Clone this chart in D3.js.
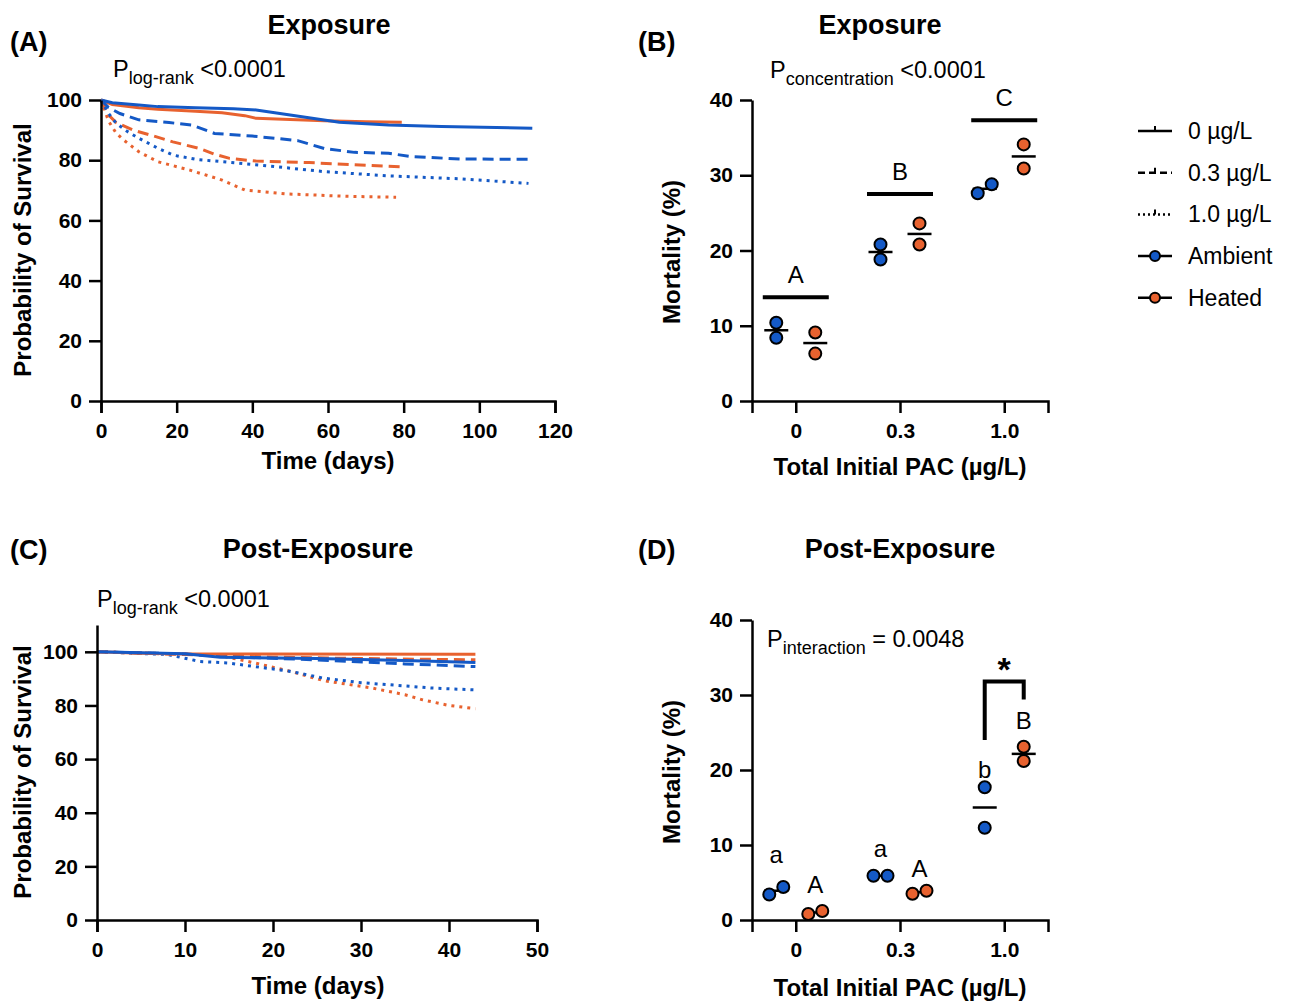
<!DOCTYPE html>
<html>
<head>
<meta charset="utf-8">
<script src="https://cdn.jsdelivr.net/npm/d3@7"></script>
<style>
  body { margin: 0; background: #fff; }
  svg { font-family: "Liberation Sans", Arial, sans-serif; }
  .axis path, .axis line { stroke: #000; stroke-width: 2.5; }
  .axis text { font-size: 21px; font-weight: bold; fill: #000; }
  .panel-label { font-size: 27px; font-weight: bold; }
  .title { font-size: 27px; font-weight: bold; text-anchor: middle; }
  .axis-title { font-size: 24px; font-weight: bold; text-anchor: middle; }
  .ptext { font-size: 23.5px; }
  .legend text { font-size: 23px; }
  .letter { font-size: 24px; text-anchor: middle; }
</style>
</head>
<body>
<svg id="chart" width="1289" height="1001"></svg>
<script>
// ---- Survival curves (day, % surviving) ----
const exposureAmbient0 = [[0,100],[3,99.1],[10,98.3],[15,97.8],[25,97.4],[35,97.1],[41,96.7],[50,95],[63,92.6],[76,91.7],[90,91.2],[114,90.6]];
const exposureHeated0 = [[0,100],[3,98.5],[10,97.4],[15,96.9],[25,96.3],[32,95.8],[38,94.8],[41,93.9],[50,93.5],[59,93.1],[70,92.8],[79.5,92.6]];
const exposureAmbient03 = [[0,100],[2,97.5],[5,95.5],[10,93.4],[18,92.5],[24,91.7],[30,88.9],[40,88],[46,87.3],[52,86.5],[59,83.9],[67,82.6],[76,82.3],[82,81.2],[95,80.4],[114,80.3]];
const exposureHeated03 = [[0,100],[2,95],[4,92.5],[8.5,90],[14,88],[19,86.1],[26,83.9],[30,82],[34,80.6],[41,79.7],[55,79.2],[79.5,77.8]];
const exposureAmbient10 = [[0,100],[2,95.5],[4,92.3],[7,89.5],[10,87.3],[15,84],[19,81.7],[25,80.3],[32,79.5],[45,78],[59,76.2],[76,74.8],[95,73.8],[113,72.3]];
const exposureHeated10 = [[0,100],[2,93],[4,89],[6,86.7],[10,82.8],[15,79.5],[23.5,76.7],[32,73.4],[38,70.1],[49,68.8],[65,68],[78,67.7]];

const postAmbient0 = [[0,100],[10,99.3],[14,98],[25,97.5],[35,96.8],[43,96]];
const postHeated0 = [[0,100],[5,99.5],[10,99.2],[43,99.1]];
const postAmbient03 = [[0,100],[10,99.2],[15,98.2],[25,97],[35,95.5],[43,94.5]];
const postHeated03 = [[0,100],[10,99],[20,98],[30,97.5],[43,97]];
const postAmbient10 = [[0,100],[8,99],[11.7,96.4],[15,95.8],[22,92.7],[25.7,90.2],[30,88.5],[33.3,87.7],[38,86.5],[43,85.8]];
const postHeated10 = [[0,100],[10,99.2],[14.3,98.4],[18,95.8],[22,92.7],[25.7,89.3],[31.4,86.4],[35,84],[37,82.1],[40,80],[43,78.8]];

// ---- Mortality (%) per tank, two replicates per group ----
const concentrations = ["0", "0.3", "1.0"];
const exposureMortAmbient = [[10.4, 8.4], [20.8, 18.8], [27.6, 28.8]];
const exposureMortHeated = [[9.1, 6.3], [23.6, 20.8], [34.1, 30.9]];
const exposureLetters = ["A", "B", "C"];
const exposureLetterBars = [13.8, 27.5, 37.3];

const postMortAmbient = [[3.4, 4.4], [5.9, 5.9], [17.7, 12.3]];
const postMortHeated = [[0.8, 1.2], [3.5, 3.9], [23.1, 21.2]];
const postLettersAmbient = ["a", "a", "b"];
const postLettersHeated = ["A", "A", "B"];
const postLetterLevelsAmbient = [7.6, 8.4, 19];
const postLetterLevelsHeated = [3.6, 5.8, 25.5];
const postBracket = [24.0, 31.8, 29.4];

const legendLabels = ["0 µg/L", "0.3 µg/L", "1.0 µg/L", "Ambient", "Heated"];

// Colours and dash styles
const blue = "#1459c6";
const orange = "#e8622f";
const dashes = { "0": null, "0.3": "11,6", "1.0": "3,5" };

const svg = d3.select("#chart");

/* Draw a pair of axes with Prism-like style */
function drawAxes(x, y, xTicks, yTicks) {
  const xa = d3.axisBottom(x).tickSizeOuter(0).tickSize(12).tickPadding(10);
  if (xTicks) xa.tickValues(xTicks);
  svg.append("g").attr("class", "axis")
    .attr("transform", `translate(0,${y.range()[0]})`)
    .call(xa);
  svg.append("g").attr("class", "axis")
    .attr("transform", `translate(${x.range()[0]},0)`)
    .call(d3.axisLeft(y).tickValues(yTicks).tickSize(12).tickSizeOuter(0).tickPadding(7));
}

/* Kaplan-Meier panel */
function survivalPanel(x, y, curves) {
  const line = d3.line().x(d => x(d[0])).y(d => y(d[1]));
  curves.forEach(c => {
    svg.append("path")
      .attr("d", line(c.data))
      .attr("fill", "none")
      .attr("stroke", c.color)
      .attr("stroke-width", 3)
      .attr("stroke-dasharray", dashes[c.conc]);
  });
}

/* Mortality scatter panel */
function mortalityPanel(x, y, ambient, heated) {
  const off = 19.5;
  const groups = [];
  concentrations.forEach((c, i) => {
    groups.push({ cx: x(c) - off, vals: ambient[i], color: blue });
    groups.push({ cx: x(c) + off, vals: heated[i], color: orange });
  });
  groups.forEach(g => {
    const m = d3.mean(g.vals);
    svg.append("line")
      .attr("x1", g.cx - 12).attr("x2", g.cx + 12)
      .attr("y1", y(m)).attr("y2", y(m))
      .attr("stroke", "#000").attr("stroke-width", 2.5);
    // spread overlapping points sideways
    const close = Math.abs(y(g.vals[0]) - y(g.vals[1])) < 12;
    g.vals.forEach((v, k) => {
      svg.append("circle")
        .attr("cx", close ? g.cx + (k === 0 ? -7 : 7) : g.cx)
        .attr("cy", y(v))
        .attr("r", 6)
        .attr("fill", g.color)
        .attr("stroke", "#000")
        .attr("stroke-width", 2);
    });
  });
}

/* P value with subscript */
function pText(px, py, sub, rest) {
  const t = svg.append("text").attr("class", "ptext").attr("x", px).attr("y", py);
  t.append("tspan").text("P");
  t.append("tspan").attr("dy", 7).attr("font-size", 18).text(sub);
  t.append("tspan").attr("dy", -7).text(rest);
}

function panelTitle(px, py, label, tx, ty, title) {
  svg.append("text").attr("class", "panel-label").attr("x", px).attr("y", py).text(label);
  svg.append("text").attr("class", "title").attr("x", tx).attr("y", ty).text(title);
}

// ---------- Panel A ----------
const xA = d3.scaleLinear().domain([0, 120]).range([101, 555]);
const yA = d3.scaleLinear().domain([0, 100]).range([401, 100]);
panelTitle(10, 51, "(A)", 329, 34, "Exposure");
pText(113, 77, "log-rank", " <0.0001");
survivalPanel(xA, yA, [
  { data: exposureHeated0, color: orange, conc: "0" },
  { data: exposureAmbient0, color: blue, conc: "0" },
  { data: exposureHeated03, color: orange, conc: "0.3" },
  { data: exposureAmbient03, color: blue, conc: "0.3" },
  { data: exposureHeated10, color: orange, conc: "1.0" },
  { data: exposureAmbient10, color: blue, conc: "1.0" }
]);
drawAxes(xA, yA, d3.range(0, 121, 20), d3.range(0, 101, 20));
svg.append("text").attr("class", "axis-title").attr("x", 328).attr("y", 469).text("Time (days)");
svg.append("text").attr("class", "axis-title")
  .attr("transform", "translate(31,250) rotate(-90)").text("Probability of Survival");

// ---------- Panel B ----------
const xB = d3.scalePoint().domain(concentrations).range([752, 1048]).padding(0.42);
const yB = d3.scaleLinear().domain([0, 40]).range([401, 100]);
panelTitle(638, 51, "(B)", 880, 34, "Exposure");
pText(770, 78, "concentration", " <0.0001");
concentrations.forEach((c, i) => {
  const yy = yB(exposureLetterBars[i]);
  svg.append("line")
    .attr("x1", xB(c) - 33).attr("x2", xB(c) + 33)
    .attr("y1", yy).attr("y2", yy)
    .attr("stroke", "#000").attr("stroke-width", 4);
  svg.append("text").attr("class", "letter").attr("x", xB(c)).attr("y", yy - 14)
    .text(exposureLetters[i]);
});
mortalityPanel(xB, yB, exposureMortAmbient, exposureMortHeated);
drawAxes(xB, yB, null, d3.range(0, 41, 10));
svg.append("text").attr("class", "axis-title").attr("x", 900).attr("y", 475).text("Total Initial PAC (µg/L)");
svg.append("text").attr("class", "axis-title")
  .attr("transform", "translate(680,252) rotate(-90)").text("Mortality (%)");

// ---------- Legend ----------
const legend = svg.append("g").attr("class", "legend");
legendLabels.forEach((lab, i) => {
  const ly = 131 + i * 41.7;
  const g = legend.append("g").attr("transform", `translate(1138,${ly})`);
  if (i < 3) {
    g.append("line").attr("x1", 0).attr("x2", 34).attr("y1", 0).attr("y2", 0)
      .attr("stroke", "#000").attr("stroke-width", 2.5)
      .attr("stroke-dasharray", i === 0 ? null : (i === 1 ? "7,4" : "2,3"));
    g.append("line").attr("x1", 17).attr("x2", 17).attr("y1", 0).attr("y2", -5)
      .attr("stroke", "#000").attr("stroke-width", 2);
  } else {
    g.append("line").attr("x1", 0).attr("x2", 34).attr("y1", 0).attr("y2", 0)
      .attr("stroke", "#000").attr("stroke-width", 2.5);
    g.append("circle").attr("cx", 17).attr("cy", 0).attr("r", 5)
      .attr("fill", i === 3 ? blue : orange).attr("stroke", "#000").attr("stroke-width", 2);
  }
  g.append("text").attr("x", 50).attr("y", 8).text(lab);
});

// ---------- Panel C ----------
const xC = d3.scaleLinear().domain([0, 50]).range([97, 537]);
const yC = d3.scaleLinear().domain([0, 110]).range([920, 625]);
panelTitle(10, 559, "(C)", 318, 558, "Post-Exposure");
pText(97, 607, "log-rank", " <0.0001");
survivalPanel(xC, yC, [
  { data: postHeated10, color: orange, conc: "1.0" },
  { data: postAmbient10, color: blue, conc: "1.0" },
  { data: postHeated03, color: orange, conc: "0.3" },
  { data: postAmbient03, color: blue, conc: "0.3" },
  { data: postHeated0, color: orange, conc: "0" },
  { data: postAmbient0, color: blue, conc: "0" }
]);
drawAxes(xC, yC, d3.range(0, 51, 10), d3.range(0, 101, 20));
svg.append("text").attr("class", "axis-title").attr("x", 318).attr("y", 994).text("Time (days)");
svg.append("text").attr("class", "axis-title")
  .attr("transform", "translate(31,772) rotate(-90)").text("Probability of Survival");

// ---------- Panel D ----------
const xD = d3.scalePoint().domain(concentrations).range([752, 1048]).padding(0.42);
const yD = d3.scaleLinear().domain([0, 40]).range([920, 620]);
panelTitle(638, 559, "(D)", 900, 558, "Post-Exposure");
pText(767, 647, "interaction", " = 0.0048");
mortalityPanel(xD, yD, postMortAmbient, postMortHeated);
concentrations.forEach((c, i) => {
  svg.append("text").attr("class", "letter").attr("x", xD(c) - 19.5)
    .attr("y", yD(postLetterLevelsAmbient[i])).text(postLettersAmbient[i]);
  svg.append("text").attr("class", "letter").attr("x", xD(c) + 19.5)
    .attr("y", yD(postLetterLevelsHeated[i])).text(postLettersHeated[i]);
});
// significance bracket between ambient and heated at 1.0
const bx1 = xD("1.0") - 19.5, bx2 = xD("1.0") + 19.5;
svg.append("path")
  .attr("d", `M${bx1},${yD(postBracket[0])}V${yD(postBracket[1])}H${bx2}V${yD(postBracket[2])}`)
  .attr("fill", "none").attr("stroke", "#000").attr("stroke-width", 4);
svg.append("text").attr("x", (bx1 + bx2) / 2).attr("y", yD(postBracket[1]) - 1)
  .attr("text-anchor", "middle").attr("font-size", 34).attr("font-weight", "bold").text("*");
drawAxes(xD, yD, null, d3.range(0, 41, 10));
svg.append("text").attr("class", "axis-title").attr("x", 900).attr("y", 996).text("Total Initial PAC (µg/L)");
svg.append("text").attr("class", "axis-title")
  .attr("transform", "translate(680,772) rotate(-90)").text("Mortality (%)");
</script>
</body>
</html>
